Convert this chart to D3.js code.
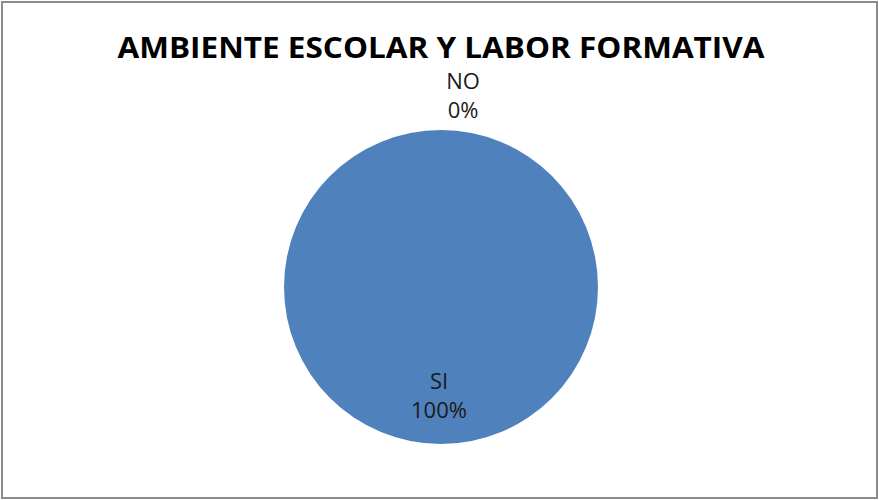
<!DOCTYPE html>
<html>
<head>
<meta charset="utf-8">
<script src="https://cdn.jsdelivr.net/npm/d3@7"></script>
<style>
  body { margin: 0; background: #fff; }
  svg { display: block; }
</style>
</head>
<body>
<svg width="879" height="500"></svg>
<script>
// chart data
var title = "AMBIENTE ESCOLAR Y LABOR FORMATIVA";
var categories = ["SI", "NO"];
var values = [100, 0];
var colors = ["#4F81BD", "#C0504D"];

var width = 879, height = 500;
var cx = 441, cy = 287, radius = 157;

var svg = d3.select("svg");

// outer frame
svg.append("rect")
    .attr("x", 2).attr("y", 2)
    .attr("width", width - 4).attr("height", height - 4)
    .attr("fill", "#fff")
    .attr("stroke", "#8c8c8c")
    .attr("stroke-width", 2);

// title
svg.append("text")
    .attr("x", 441)
    .attr("y", 58)
    .attr("text-anchor", "middle")
    .attr("textLength", 647)
    .attr("lengthAdjust", "spacingAndGlyphs")
    .style("font-family", "'Open Sans', sans-serif")
    .style("font-size", "28px")
    .style("font-weight", "bold")
    .style("fill", "#000")
    .text(title);

var data = categories.map(function(c, i) { return { name: c, value: values[i], color: colors[i] }; });
var total = d3.sum(values);

var pie = d3.pie().sort(null).value(function(d) { return d.value; });
var arcs = pie(data);

var arc = d3.arc().innerRadius(0).outerRadius(radius);

var g = svg.append("g").attr("transform", "translate(" + cx + "," + cy + ")");

g.selectAll("path")
    .data(arcs.filter(function(d) { return d.value > 0; }))
    .enter().append("path")
    .attr("d", arc)
    .attr("fill", function(d) { return d.data.color; });

// labels: inside for real slices, outside for empty ones
var inner = d3.arc().innerRadius(radius * 0.736).outerRadius(radius * 0.736);
var outer = d3.arc().innerRadius(radius * 1.169).outerRadius(radius * 1.169);

var labels = g.selectAll("g.lbl")
    .data(arcs)
    .enter().append("g")
    .attr("class", "lbl")
    .attr("transform", function(d) {
        var p = d.value > 0 ? inner.centroid(d) : outer.centroid(d);
        var dx = d.value > 0 ? -2 : 22;
        return "translate(" + (p[0] + dx) + "," + p[1] + ")";
    });

labels.append("text")
    .attr("text-anchor", "middle")
    .attr("y", -14)
    .style("font-family", "'Open Sans', sans-serif")
    .style("font-size", "22px")
    .style("fill", "#1a1a1a")
    .text(function(d) { return d.data.name; });

labels.append("text")
    .attr("text-anchor", "middle")
    .attr("y", 15)
    .style("font-family", "'Open Sans', sans-serif")
    .style("font-size", "22px")
    .style("fill", "#1a1a1a")
    .text(function(d) { return Math.round(d.value / total * 100) + "%"; });
</script>
</body>
</html>
